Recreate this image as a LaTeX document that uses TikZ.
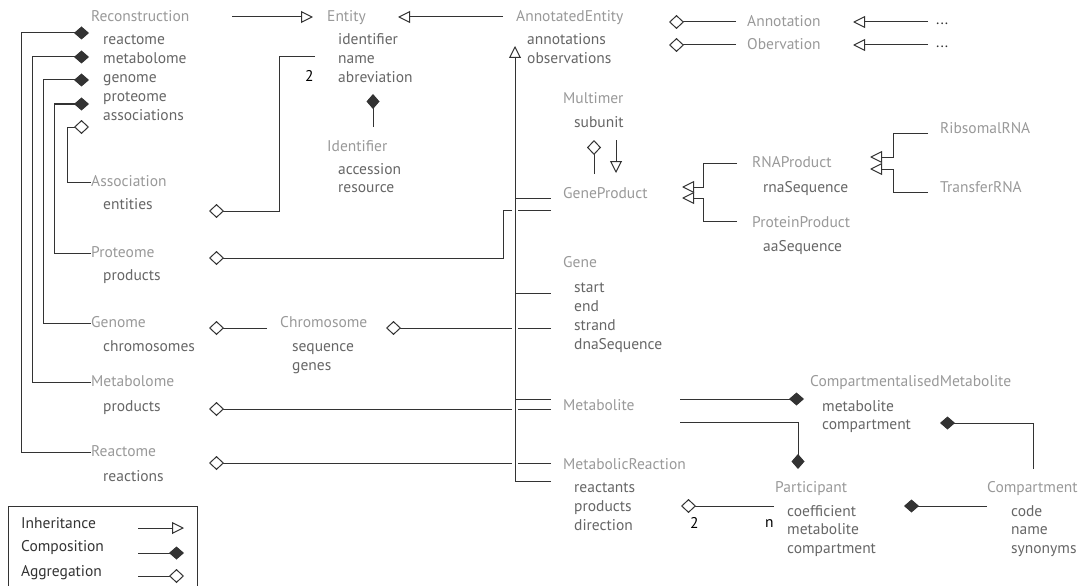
\documentclass[tikz,border=0pt]{standalone}
\usepackage{fontspec}
\setmainfont{PT Sans}
\usetikzlibrary{arrows.meta}
\definecolor{clsgray}{HTML}{999999}
\definecolor{attgray}{HTML}{666666}
\definecolor{linecol}{HTML}{333333}
\newcommand\dfont{\fontsize{15.5}{19}\selectfont}
\tikzset{
  txt/.style={anchor=west, inner sep=0pt, font=\dfont, text height=1.0em, text depth=0.1em},
  cls/.style={txt, text=clsgray},
  att/.style={txt, text=attgray},
  num/.style={txt, text=black},
  lgd/.style={txt, text=linecol},
  ln/.style={draw=linecol, line width=1pt},
  inh/.style={ln, -{Triangle[open, length=12pt, width=12pt, fill=white]}},
  comp/.style={ln, -{Diamond[length=15pt, width=13pt, fill=linecol]}},
  aggr/.style={ln, -{Diamond[open, length=15pt, width=14pt, fill=white]}},
}
\begin{document}
\begin{tikzpicture}[x=1pt,y=-1pt]
\useasboundingbox (0,0) rectangle (1085,586);

% ---------- class names ----------
\node[cls] (cRec) at (91,17) {Reconstruction};
\node[cls] (cEnt) at (327,17) {Entity};
\node[cls] (cAnnEnt) at (516,17) {AnnotatedEntity};
\node[cls] (cAnn) at (747,22) {Annotation};
\node[cls] (cObs) at (747,45) {Obervation};
\node[cls] (cIdf) at (327,147) {Identifier};
\node[cls] (cMul) at (563,99) {Multimer};
\node[cls] (cRib) at (940,129) {RibsomalRNA};
\node[cls] (cRNA) at (752,163) {RNAProduct};
\node[cls] (cTra) at (940,188) {TransferRNA};
\node[cls] (cGP) at (563,194) {GeneProduct};
\node[cls] (cPP) at (752,223) {ProteinProduct};
\node[cls] (cAss) at (91,182) {Association};
\node[cls] (cProt) at (91,253) {Proteome};
\node[cls] (cGene) at (563,263) {Gene};
\node[cls] (cGen) at (91,323) {Genome};
\node[cls] (cChr) at (280,323) {Chromosome};
\node[cls] (cMetab) at (91,382) {Metabolome};
\node[cls] (cCM) at (810,382) {CompartmentalisedMetabolite};
\node[cls] (cMet) at (563,406) {Metabolite};
\node[cls] (cReac) at (91,452) {Reactome};
\node[cls] (cMR) at (563,465) {MetabolicReaction};
\node[cls] (cPar) at (775,488) {Participant};
\node[cls] (cComp) at (987,488) {Compartment};

% ---------- attributes ----------
\node[att] (aRec1) at (103,40) {reactome};
\node[att] (aRec2) at (103,59) {metabolome};
\node[att] (aRec3) at (103,78) {genome};
\node[att] (aRec4) at (103,97) {proteome};
\node[att] (aRec5) at (103,116) {associations};
\node[att] (aEnt1) at (338,40) {identifier};
\node[att] (aEnt2) at (338,59) {name};
\node[att] (aEnt3) at (338,78) {abreviation};
\node[att] (aAE1) at (527,40) {annotations};
\node[att] (aAE2) at (527,59) {observations};
\node[att] (aIdf1) at (338,170) {accession};
\node[att] (aIdf2) at (338,188) {resource};
\node[att] (aMul1) at (574,123) {subunit};
\node[att] (aRNA1) at (763,188) {rnaSequence};
\node[att] (aPP1) at (763,247) {aaSequence};
\node[att] (aAss1) at (103,205) {entities};
\node[att] (aProt1) at (103,276) {products};
\node[att] (aGene1) at (574,288) {start};
\node[att] (aGene2) at (574,307) {end};
\node[att] (aGene3) at (574,326) {strand};
\node[att] (aGene4) at (574,345) {dnaSequence};
\node[att] (aGen1) at (103,347) {chromosomes};
\node[att] (aChr1) at (292,347) {sequence};
\node[att] (aChr2) at (292,366) {genes};
\node[att] (aMetab1) at (103,407) {products};
\node[att] (aCM1) at (822,407) {metabolite};
\node[att] (aCM2) at (822,425) {compartment};
\node[att] (aReac1) at (103,477) {reactions};
\node[att] (aMR1) at (574,488) {reactants};
\node[att] (aMR2) at (574,507) {products};
\node[att] (aMR3) at (574,526) {direction};
\node[att] (aPar1) at (787,512) {coefficient};
\node[att] (aPar2) at (787,530) {metabolite};
\node[att] (aPar3) at (787,549) {compartment};
\node[att] (aComp1) at (1011,512) {code};
\node[att] (aComp2) at (1011,530) {name};
\node[att] (aComp3) at (1011,549) {synonyms};

% ---------- multiplicities ----------
\node[num] (m1) at (305,77) {2};
\node[num] (m2) at (690,524) {2};
\node[num] (m3) at (765,523) {n};

% ---------- Reconstruction compositions ----------
\draw[comp] (cReac.west) -- (21,452) -- (21,33) -- (89,33);
\draw[comp] (cMetab.west) -- (32,382) -- (32,57) -- (89,57);
\draw[comp] (cGen.west) -- (43,323) -- (43,80) -- (89,80);
\draw[comp] (cProt.west) -- (54,253) -- (54,104) -- (89,104);
\draw[aggr] (cAss.west) -- (67,182) -- (67,127) -- (89,127);

% ---------- inheritance top row ----------
\coordinate (recEnd) at (232,17);
\coordinate (entTip) at (313,17);
\draw[inh] (recEnd) -- (entTip);
\coordinate (aeStart) at (503,17);
\coordinate (entTip2) at (398,17);
\draw[inh] (aeStart) -- (entTip2);

% Entity composition with Identifier
\draw[comp] (373,127) -- (373,94);

% annotations / observations
\draw[aggr] (736,22) -- (669,22);
\draw[aggr] (736,45) -- (669,45);
\node[lgd] (dots1) at (936,20) {...};
\node[lgd] (dots2) at (936,43) {...};
\draw[inh] (928,22) -- (853,22);
\draw[inh] (928,45) -- (853,45);

% Association entities -> Entity
\draw[aggr] (315,57) -- (279,57) -- (279,211) -- (209,211);

% ---------- lines crossing the inheritance trunk ----------
\draw[aggr] (551,210) -- (503,210) -- (503,258) -- (209,258);
\draw[aggr] (551,328) -- (386,328);
\draw[aggr] (267,328) -- (209,328);
\draw[aggr] (551,409) -- (209,409);
\draw[aggr] (551,463) -- (209,463);

% white gaps at the crossings, then the trunk
\draw[white, line width=6pt] (515,62) -- (515,476);
\draw[inh] (551,481) -- (515,481) -- (515,46);
\draw[ln] (515,198) -- (551,198);
\draw[ln] (515,293) -- (551,293);
\draw[ln] (515,399) -- (551,399);

% Multimer
\draw[aggr] (594,174) -- (594,140);
\draw[inh] (616,140) -- (616,173);

% GeneProduct subclasses
\draw[inh] (737,163) -- (703,163) -- (703,187) -- (682,187);
\draw[inh] (737,221) -- (703,221) -- (703,198) -- (682,198);

% RNAProduct subclasses
\draw[inh] (928,133) -- (893,133) -- (893,157) -- (870,157);
\draw[inh] (928,192) -- (893,192) -- (893,169) -- (870,169);

% Metabolite -> CompartmentalisedMetabolite
\draw[comp] (680,399) -- (804,399);
\draw[comp] (680,422) -- (798,422) -- (798,469);

% Participant
\draw[aggr] (774,506) -- (681,506);
\draw[comp] (987,506) -- (904,506);
\draw[comp] (1033,469) -- (1033,423) -- (940,423);

% ---------- legend ----------
\draw[ln] (8,506) rectangle (197,592);
\node[lgd] (lInh) at (21,524) {Inheritance};
\node[lgd] (lComp) at (21,547) {Composition};
\node[lgd] (lAggr) at (21,572) {Aggregation};
\draw[inh] (138,528) -- (184,528);
\draw[comp] (138,553) -- (184,553);
\draw[aggr] (138,576) -- (184,576);
\end{tikzpicture}
\end{document}
